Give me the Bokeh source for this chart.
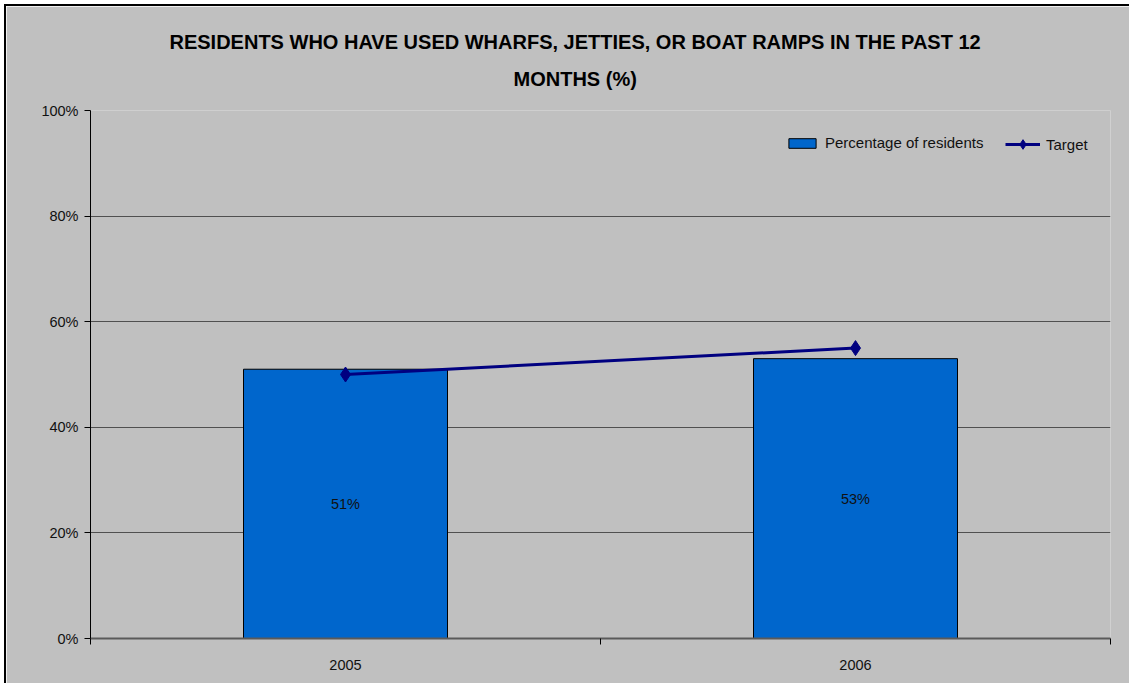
from bokeh.plotting import figure
from bokeh.models import (ColumnDataSource, FixedTicker, Range1d, Legend, LegendItem,
                          Title)
from bokeh.core.properties import value
from bokeh.embed import file_html
from bokeh.resources import INLINE

# Survey results
categories = ["2005", "2006"]
residents_pct = [51, 53]
target_pct = [50, 55]
y_ticks = [0, 20, 40, 60, 80, 100]
y_tick_labels = ["0%", "20%", "40%", "60%", "80%", "100%"]

FONT = "Liberation Sans"
BG = "#C0C0C0"

x_pos = [i + 0.5 for i in range(len(categories))]
bars = ColumnDataSource(dict(x=x_pos, v=residents_pct, mid=[v / 2 for v in residents_pct],
                             lbl=[f"{v}%" for v in residents_pct]))
targets = ColumnDataSource(dict(x=x_pos, v=target_pct))

p = figure(width=1125, height=679, output_backend="svg", toolbar_location=None,
           x_range=Range1d(0, len(categories)), y_range=Range1d(0, 100),
           background_fill_color=BG, border_fill_color=BG,
           min_border_left=84, min_border_right=21, min_border_top=104, min_border_bottom=47)
p.margin = (4, 0, 0, 4)
p.styles = {"border-top": "2px solid black", "border-left": "2px solid black"}
p.outline_line_color = None

# Two-line bold title
p.add_layout(Title(text="MONTHS (%)", align="left", text_font=FONT, text_font_size="20px",
                   text_font_style="bold", text_color="black", standoff=41, offset=423), "above")
p.add_layout(Title(text="RESIDENTS WHO HAVE USED WHARFS, JETTIES, OR BOAT RAMPS IN THE PAST 12",
                   align="left", text_font=FONT, text_font_size="20px",
                   text_font_style="bold", text_color="black", standoff=-14, offset=79), "above")

# Bars
r_bar = p.vbar(x="x", top="v", width=0.4, source=bars, fill_color="#0066CC",
               line_color="black", line_width=1)
p.text(x="x", y="mid", text="lbl", source=bars, text_align="center", text_baseline="middle",
       text_font=value(FONT), text_font_size="14.5px", text_color="#111111")

# Target line
r_line = p.line(x="x", y="v", source=targets, line_color="#000080", line_width=3)
r_mark = p.scatter(x="x", y="v", source=targets, marker="diamond", size=15,
                   fill_color="#000080", line_color="#000080")

# Axes
p.yaxis.ticker = FixedTicker(ticks=y_ticks)
p.yaxis.major_label_overrides = {t: l for t, l in zip(y_ticks, y_tick_labels)}
p.yaxis.axis_line_color = "black"
p.yaxis.major_tick_out = 6
p.yaxis.major_tick_in = 0
p.yaxis.minor_tick_line_color = None
p.yaxis.major_label_standoff = 6

p.xaxis.ticker = FixedTicker(ticks=x_pos, minor_ticks=list(range(len(categories) + 1)))
p.xaxis.major_label_overrides = {x: c for x, c in zip(x_pos, categories)}
p.xaxis.major_tick_line_color = None
p.xaxis.minor_tick_out = 6
p.xaxis.minor_tick_in = 0
p.xaxis.minor_tick_line_color = "black"
p.xaxis.axis_line_color = "#5A5A5A"
p.xaxis.axis_line_width = 2
p.xaxis.major_label_standoff = 15

for ax in (p.xaxis, p.yaxis):
    ax.major_label_text_font = FONT
    ax.major_label_text_font_size = "14.5px"
    ax.major_label_text_color = "#111111"

p.xgrid.grid_line_color = None
p.ygrid.grid_line_color = "#505050"
p.ygrid.grid_line_width = 1

legend_style = dict(orientation="horizontal", padding=0, margin=0, label_standoff=6,
                    label_text_font=FONT, label_text_font_size="15px",
                    label_text_color="#111111", background_fill_alpha=0,
                    border_line_color=None)
legend_bar = Legend(items=[LegendItem(label="Percentage of residents", renderers=[r_bar])],
                    location=(695, 487), glyph_width=34, glyph_height=12, **legend_style)
legend_tgt = Legend(items=[LegendItem(label="Target", renderers=[r_line, r_mark])],
                    location=(915, 482), glyph_width=35, glyph_height=24, **legend_style)
p.add_layout(legend_bar)
p.add_layout(legend_tgt)

open("out.html", "w").write(file_html(p, INLINE))
